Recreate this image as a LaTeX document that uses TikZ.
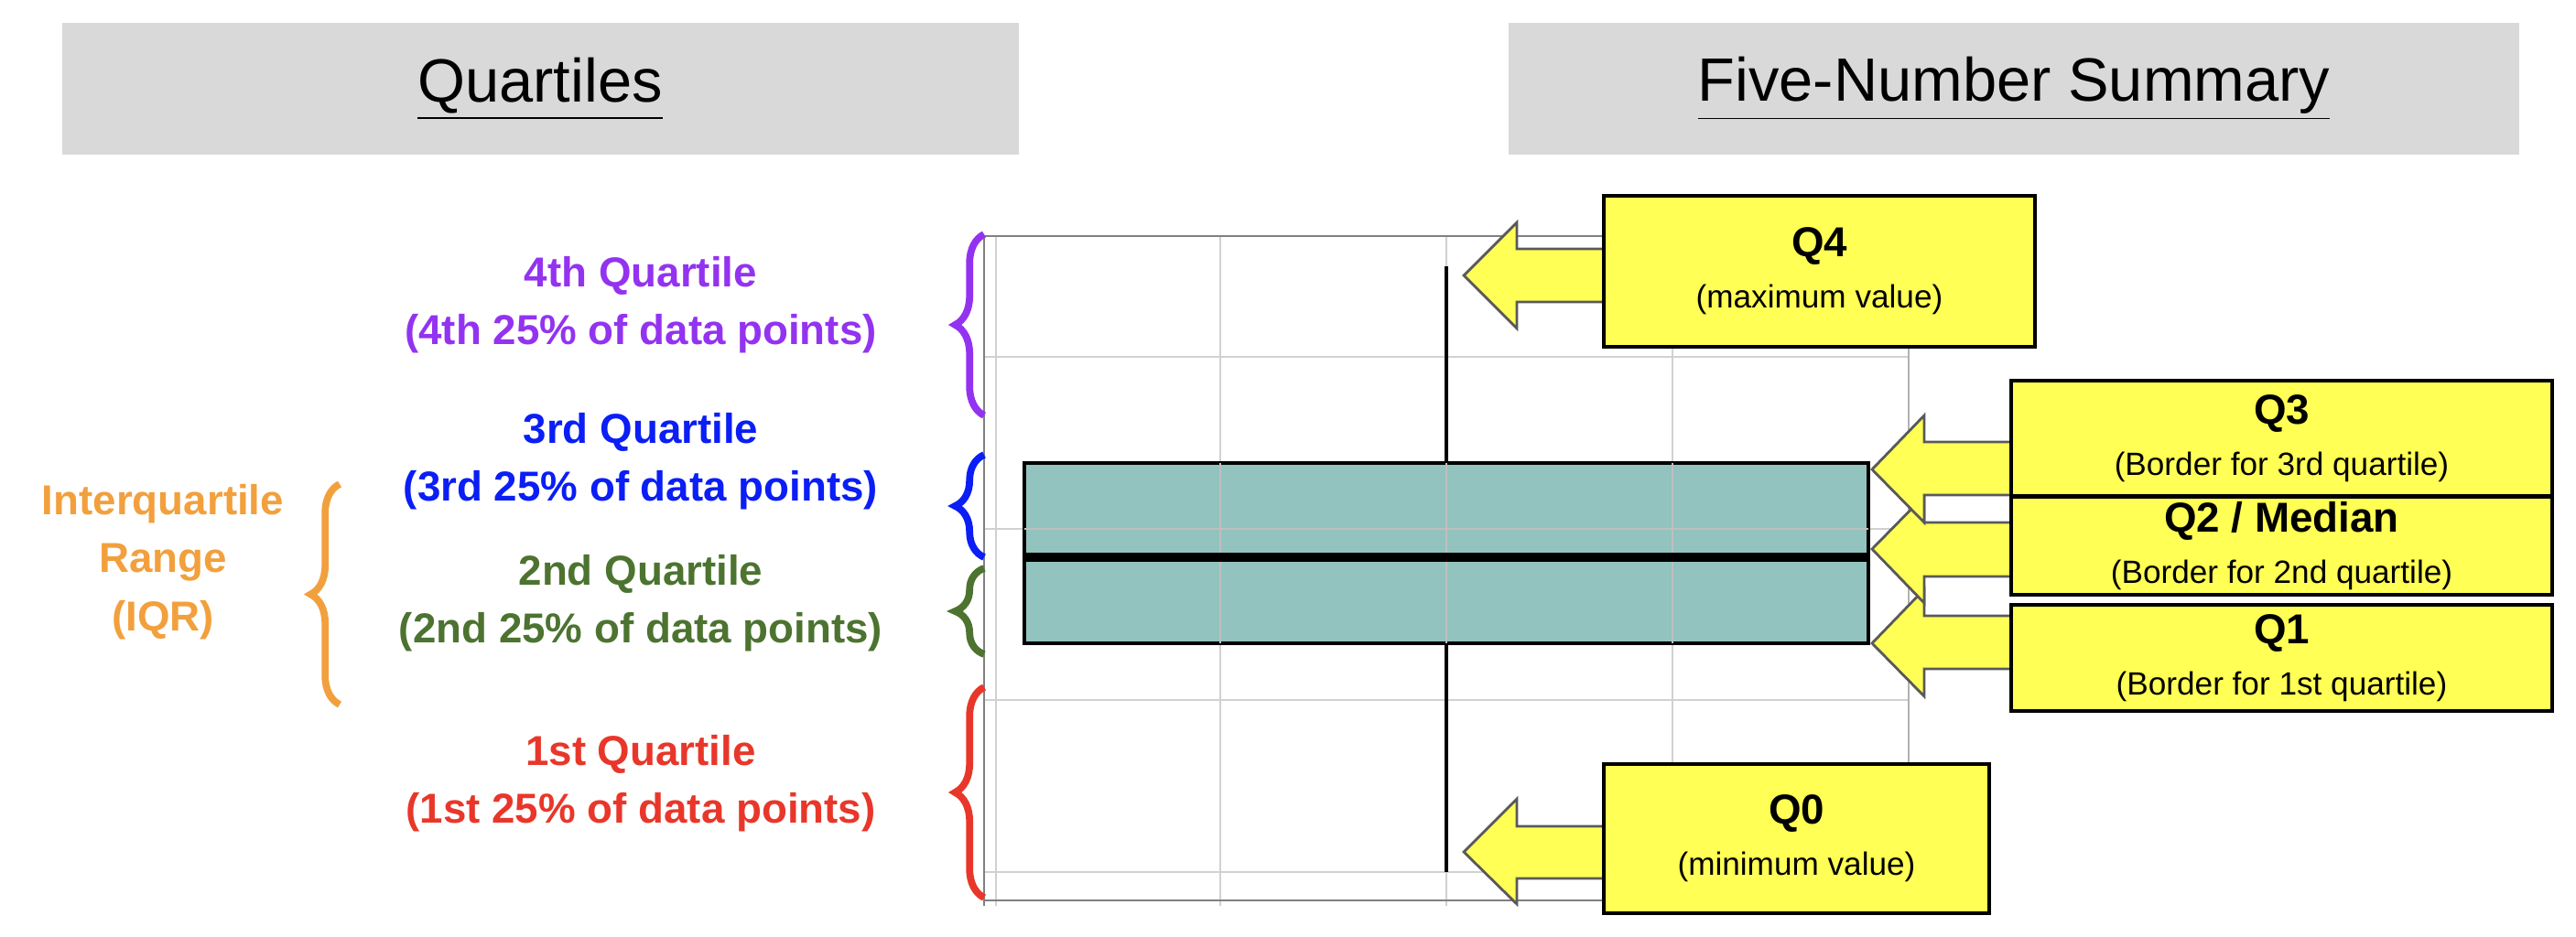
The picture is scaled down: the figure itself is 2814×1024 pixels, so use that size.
\documentclass[tikz,border=0pt]{standalone}
\usepackage{fontspec}
\setmainfont{Liberation Sans}
\usetikzlibrary{decorations.pathreplacing}
\definecolor{cpur}{HTML}{9333F0}
\definecolor{cblu}{HTML}{0A1EF5}
\definecolor{cgrn}{HTML}{4C7330}
\definecolor{cred}{HTML}{E8372A}
\definecolor{corg}{HTML}{F2A03D}
\definecolor{cteal}{HTML}{92C3BF}
\definecolor{cyel}{HTML}{FFFF55}
\definecolor{cgray}{HTML}{D9D9D9}
\tikzset{
 title/.style={fill=cgray,minimum width=#1,minimum height=144*0.01cm,font=\fontsize{19}{22}\selectfont},
 qtext/.style={align=center,font=\bfseries\fontsize{13}{16}\selectfont,text=#1},
 brc/.style={draw=#1,line width=2.2pt,decorate,decoration={brace,amplitude=9pt}},
 ybox/.style={draw=black,line width=1pt,fill=cyel,align=center,inner sep=0pt},
 yarr/.style={fill=cyel,draw=black!65,line width=0.8pt},
 grid/.style={draw=black!18,line width=0.5pt},
}
\newcommand{\qlab}[2]{{\fontsize{13}{16}\selectfont #1}\\[4pt]{\fontsize{10}{12}\selectfont #2}}
\begin{document}
\begin{tikzpicture}[x=0.01cm,y=-0.01cm]
\useasboundingbox (0,0) rectangle (2814,1024);
% titles
\node[title=1045*0.01cm] (t1) at (590,97) {\underline{Quartiles}};
\node[title=1104*0.01cm] (t2) at (2200,97) {\underline{Five-Number Summary}};
% chart grid
\foreach \y in {390,578,765,953} \draw[grid] (1075,\y) -- (2085,\y);
\foreach \x in {1088,1333,1580,1827} \draw[grid] (\x,258) -- (\x,990);
\draw[black!50,line width=0.8pt] (1075,990) -- (1075,258) -- (2085,258);
\draw[black!50,line width=0.8pt] (1075,984) -- (2085,984);
\draw[black!30,line width=0.8pt] (2085,258) -- (2085,984);
% whisker and box
\draw[black,line width=0.9pt] (1580,291) -- (1580,953);
\node[draw=black,line width=1.3pt,fill=cteal,fill opacity=1,minimum width=922*0.01cm,minimum height=197*0.01cm,inner sep=0pt] (box) at (1580,604.5) {};
\foreach \y in {578} \draw[black!25,line width=0.5pt] (1119,\y) -- (2041,\y);
\foreach \x in {1333,1580,1827} \draw[black!25,line width=0.5pt] (\x,506) -- (\x,703);
\draw[black,line width=2.6pt] (box.west |- 0,609) -- (box.east |- 0,609);
% left braces
\draw[brc=cpur] (1075,454) -- (1075,256);
\draw[brc=cblu] (1075,609) -- (1075,497);
\draw[brc=cgrn] (1075,715) -- (1075,621);
\draw[brc=cred] (1075,981) -- (1075,751);
\draw[brc=corg] (371,770) -- (371,529);
% texts
\node[qtext=cpur] (l4) at (700,333) {4th Quartile\\[2pt](4th 25\% of data points)};
\node[qtext=cblu] (l3) at (700,504) {3rd Quartile\\[2pt](3rd 25\% of data points)};
\node[qtext=cgrn] (l2) at (700,659) {2nd Quartile\\[2pt](2nd 25\% of data points)};
\node[qtext=cred] (l1) at (700,856) {1st Quartile\\[2pt](1st 25\% of data points)};
\node[qtext=corg] (iqr) at (178,614) {Interquartile\\[2pt]Range\\[2pt](IQR)};
% arrows
\draw[yarr] (1760,272) -- (1657,272) -- (1657,243) -- (1599,301) -- (1657,359) -- (1657,330) -- (1760,330) -- cycle;
\draw[yarr] (1760,903) -- (1657,903) -- (1657,873) -- (1599,931) -- (1657,988) -- (1657,960) -- (1760,960) -- cycle;
\draw[yarr] (2205,673) -- (2102,673) -- (2102,644) -- (2045,703) -- (2102,761) -- (2102,731) -- (2205,731) -- cycle;
\draw[yarr] (2205,571) -- (2102,571) -- (2102,542) -- (2045,600) -- (2102,659) -- (2102,630) -- (2205,630) -- cycle;
\draw[yarr] (2205,483) -- (2102,483) -- (2102,454) -- (2045,513) -- (2102,571) -- (2102,541) -- (2205,541) -- cycle;
% yellow boxes
\node[ybox,minimum width=471*0.01cm,minimum height=165*0.01cm] (q4) at (1987.5,296.5) {\bfseries\qlab{Q4}{(maximum value)}};
\node[ybox,minimum width=421*0.01cm,minimum height=163*0.01cm] (q0) at (1962.5,916.5) {\bfseries\qlab{Q0}{(minimum value)}};
\node[ybox,minimum width=591*0.01cm,minimum height=126*0.01cm] (q3) at (2492.5,479) {\bfseries\qlab{Q3}{(Border for 3rd quartile)}};
\node[ybox,minimum width=591*0.01cm,minimum height=107*0.01cm] (q2) at (2492.5,596.5) {\bfseries\qlab{Q2 / Median}{(Border for 2nd quartile)}};
\node[ybox,minimum width=591*0.01cm,minimum height=116*0.01cm] (q1) at (2492.5,719) {\bfseries\qlab{Q1}{(Border for 1st quartile)}};
\end{tikzpicture}
\end{document}
